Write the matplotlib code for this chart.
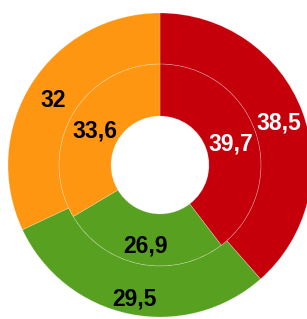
import numpy as np
import matplotlib
matplotlib.use('Agg')
import matplotlib.pyplot as plt

# ring values, clockwise from top: red, green, orange
outer_values = [38.5, 29.5, 32]
inner_values = [39.7, 26.9, 33.6]
colors = ['#c5000b', '#58a020', '#ff9612']
label_colors = ['white', 'black', 'black']

def fmt(v):
    s = ('%g' % v)
    return s.replace('.', ',')

plt.rcParams['font.family'] = ['Liberation Sans', 'DejaVu Sans']

fig = plt.figure(figsize=(3.07, 3.19), dpi=100)
ax = fig.add_axes([0, 0, 1, 1])
ax.set_aspect('equal')
ax.axis('off')

edge = dict(edgecolor=(1, 1, 1, 0.3), linewidth=0.5)

r_out = 1.0
w_out = 0.336
r_in = 0.664
w_in = 0.342

outer, _ = ax.pie(outer_values, radius=r_out, colors=colors, startangle=90,
                  counterclock=False, wedgeprops=dict(width=w_out, **edge))
inner, _ = ax.pie(inner_values, radius=r_in, colors=colors, startangle=90,
                  counterclock=False, wedgeprops=dict(width=w_in, **edge))

def put_labels(wedges, values, rmid, dy=0.0):
    for w, v, c in zip(wedges, values, label_colors):
        ang = np.deg2rad((w.theta1 + w.theta2) / 2)
        y = rmid * np.sin(ang)
        ax.text(rmid * np.cos(ang), y + dy + min(y, 0) * 0.06, fmt(v),
                ha='center', va='center', color=c, fontsize=16.5,
                fontweight='bold')

put_labels(outer, outer_values, r_out - w_out / 2, dy=-0.02)
put_labels(inner, inner_values, r_in - w_in / 2, dy=-0.02)

ax.set_xlim(-160 / 152, 147 / 152)
ax.set_ylim(-154 / 152, 165 / 152)

fig.savefig('out.png', dpi=100)
